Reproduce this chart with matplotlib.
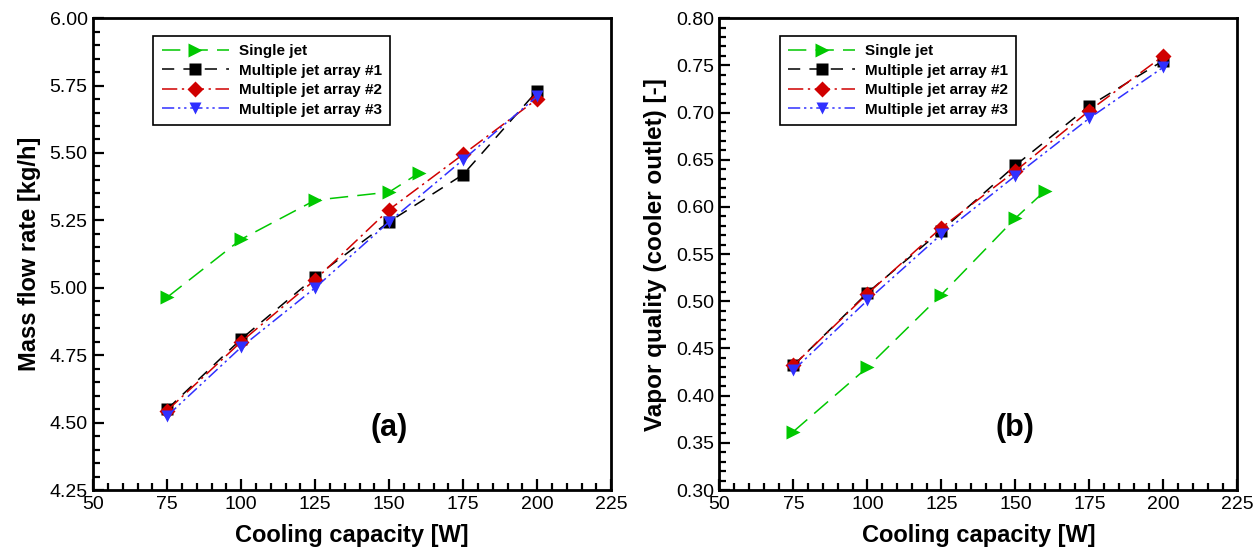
import matplotlib.pyplot as plt
from matplotlib.ticker import MultipleLocator

plt.rcParams['font.family'] = ['Liberation Sans', 'DejaVu Sans']

# cooling capacity [W]
x_single = [75, 100, 125, 150, 160]
x_multi = [75, 100, 125, 150, 175, 200]

# (a) mass flow rate [kg/h]
mfr_single = [4.965, 5.18, 5.325, 5.355, 5.425]
mfr_arr1 = [4.55, 4.81, 5.04, 5.245, 5.42, 5.73]
mfr_arr2 = [4.545, 4.80, 5.03, 5.29, 5.495, 5.70]
mfr_arr3 = [4.525, 4.78, 5.00, 5.245, 5.475, 5.71]

# (b) vapor quality at cooler outlet [-]
vq_single = [0.362, 0.430, 0.507, 0.588, 0.617]
vq_arr1 = [0.432, 0.509, 0.575, 0.644, 0.707, 0.755]
vq_arr2 = [0.432, 0.508, 0.578, 0.638, 0.702, 0.760]
vq_arr3 = [0.427, 0.501, 0.571, 0.633, 0.694, 0.748]

labels = ['Single jet', 'Multiple jet array #1', 'Multiple jet array #2', 'Multiple jet array #3']

styles = [
    dict(color='#00c800', marker='>', ls=(0, (12, 6)), ms=10),
    dict(color='black', marker='s', ls=(0, (8, 6)), ms=8),
    dict(color='#d00000', marker='D', ls=(0, (10, 3, 1.5, 3)), ms=8),
    dict(color='#3030ff', marker='v', ls=(0, (8, 2.5, 1.5, 2.5, 1.5, 2.5)), ms=9),
]

fig = plt.figure(figsize=(12.6, 5.5), dpi=100)
ax1 = fig.add_axes([0.074, 0.109, 0.411, 0.858])
ax2 = fig.add_axes([0.571, 0.109, 0.411, 0.858])


def style_axes(ax, ymin, ymax, ymaj, ymin_step, fmt):
    ax.set_xlim(50, 225)
    ax.set_ylim(ymin, ymax)
    ax.xaxis.set_major_locator(MultipleLocator(25))
    ax.xaxis.set_minor_locator(MultipleLocator(5))
    ax.yaxis.set_major_locator(MultipleLocator(ymaj))
    ax.yaxis.set_minor_locator(MultipleLocator(ymin_step))
    ax.yaxis.set_major_formatter(fmt)
    ax.tick_params(which='both', direction='in', top=False, right=False, labelsize=14, width=1.6)
    ax.tick_params(which='major', length=8, pad=4)
    ax.tick_params(which='minor', length=5)
    for s in ax.spines.values():
        s.set_linewidth(2)
    ax.set_xlabel('Cooling capacity [W]', fontsize=17, fontweight='bold', labelpad=8)


series_a = [(x_single, mfr_single), (x_multi, mfr_arr1), (x_multi, mfr_arr2), (x_multi, mfr_arr3)]
series_b = [(x_single, vq_single), (x_multi, vq_arr1), (x_multi, vq_arr2), (x_multi, vq_arr3)]

for ax, series in [(ax1, series_a), (ax2, series_b)]:
    for (xs, ys), lab, st in zip(series, labels, styles):
        ax.plot(xs, ys, lw=1.1, label=lab, mec='none', **st)
    leg = ax.legend(loc='upper left', bbox_to_anchor=(0.116, 0.962),
                    prop={'weight': 'bold', 'size': 11}, fancybox=False,
                    edgecolor='black', framealpha=1, borderpad=0.55,
                    borderaxespad=0, handlelength=4.4, labelspacing=0.35,
                    handletextpad=0.65)
    leg.get_frame().set_linewidth(1.2)

style_axes(ax1, 4.25, 6.0, 0.25, 0.05, '{x:.2f}')
style_axes(ax2, 0.30, 0.80, 0.05, 0.01, '{x:.2f}')

ax1.set_ylabel('Mass flow rate [kg/h]', fontsize=17, fontweight='bold', labelpad=6)
ax2.set_ylabel('Vapor quality (cooler outlet) [-]', fontsize=17.5, fontweight='bold', labelpad=6)

ax1.text(150, 4.48, '(a)', fontsize=22, fontweight='bold', ha='center', va='center')
ax2.text(150, 0.366, '(b)', fontsize=22, fontweight='bold', ha='center', va='center')

fig.savefig('out.png', dpi=100)
